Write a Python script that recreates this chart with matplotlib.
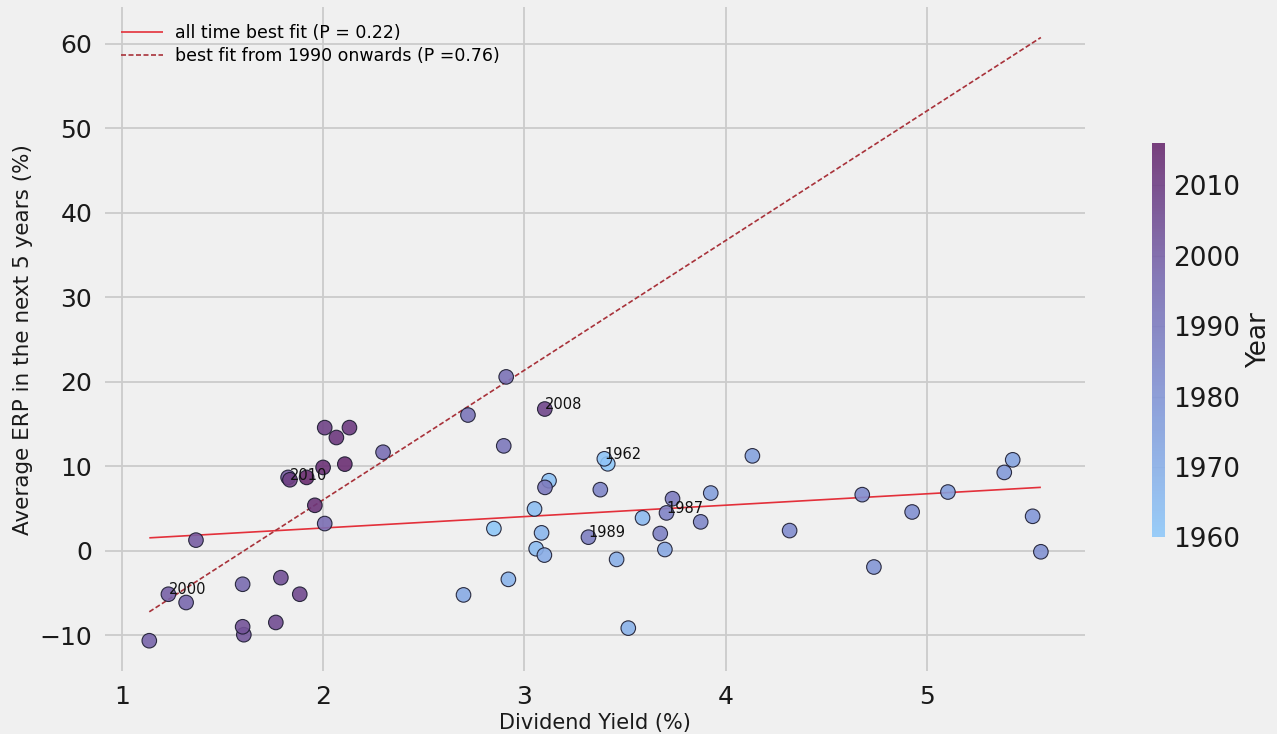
import numpy as np
import matplotlib
matplotlib.use("Agg")
import matplotlib.pyplot as plt
from matplotlib.colors import LinearSegmentedColormap, Normalize

years = list(range(1960, 2017))
div_yield = [3.414, 2.848, 3.397, 3.122, 3.050, 3.058, 3.587, 3.085, 2.920, 3.516,
             3.458, 3.099, 2.697, 3.698, 5.427, 4.133, 3.926, 5.105, 5.385, 5.526,
             4.737, 5.567, 4.927, 4.318, 4.679, 3.876, 3.377, 3.706, 3.675, 3.318,
             3.736, 3.102, 2.897, 2.719, 2.909, 2.297, 2.007, 1.599, 1.318, 1.135,
             1.230, 1.367, 1.825, 1.605, 1.599, 1.789, 1.764, 1.883, 3.101, 2.007,
             1.834, 2.130, 2.065, 1.958, 1.999, 2.107, 1.917]
erp_5y = [10.29, 2.63, 10.88, 8.29, 4.95, 0.24, 3.89, 2.12, -3.38, -9.15,
          -1.02, -0.51, -5.22, 0.15, 10.76, 11.23, 6.83, 6.95, 9.27, 4.08,
          -1.92, -0.12, 4.59, 2.39, 6.64, 3.42, 7.23, 4.48, 2.04, 1.61,
          6.16, 7.50, 12.41, 16.06, 20.57, 11.66, 3.22, -3.96, -6.12, -10.64,
          -5.14, 1.26, 8.68, -9.93, -8.99, -3.18, -8.48, -5.14, 16.77, 14.57,
          8.40, 14.57, 13.40, 5.38, 9.86, 10.25, 8.68]
annotated_years = [1962, 1987, 1989, 2000, 2008, 2010]

# best-fit lines (slope, intercept)
fit_all = (1.348, 0.0)
fit_1990 = (15.33, -24.62)
label_all = "all time best fit (P = 0.22)"
label_1990 = "best fit from 1990 onwards (P =0.76)"

plt.style.use("fivethirtyeight")
plt.rcParams["font.family"] = ["DejaVu Sans"]

fig = plt.figure(figsize=(12.77, 7.34), dpi=100)
fig.patch.set_facecolor("#f0f0f0")
ax = fig.add_axes([0.082, 0.086, 0.768, 0.904])
ax.set_facecolor("#f0f0f0")

cmap = LinearSegmentedColormap.from_list(
    "yr", ["#90c9f9", "#8499d8", "#7a6bb0", "#6a2c70"])
norm = Normalize(vmin=1960, vmax=2016)

x = np.array(div_yield)
y = np.array(erp_5y)
sc = ax.scatter(x, y, c=years, cmap=cmap, norm=norm, s=110, alpha=0.9,
                edgecolors="#1a1a2e", linewidths=0.8, zorder=3)

xs = np.array([x.min(), x.max()])
ax.plot(xs, fit_all[0] * xs + fit_all[1], color="#e3303a", lw=1.2,
        label=label_all, zorder=2)
ax.plot(xs, fit_1990[0] * xs + fit_1990[1], color="#a8323a", lw=1.2,
        ls=(0, (3, 1.5)), label=label_1990, zorder=2)

for yr, xv, yv in zip(years, div_yield, erp_5y):
    if yr in annotated_years:
        ax.annotate(str(yr), (xv, yv), fontsize=10.5, color="#111111", zorder=4)

ax.set_xticks([1, 2, 3, 4, 5])
ax.set_yticks([-10, 0, 10, 20, 30, 40, 50, 60])
ax.tick_params(axis="both", labelsize=18, length=0, colors="#1a1a1a")
ax.tick_params(axis="x", pad=10)
ax.tick_params(axis="y", pad=9)
ax.set_xlabel("Dividend Yield (%)", fontsize=15, labelpad=3)
ax.set_ylabel("Average ERP in the next 5 years (%)", fontsize=15.5, labelpad=5)
ax.xaxis.label.set_color("#1a1a1a")
ax.yaxis.label.set_color("#1a1a1a")
ax.grid(True, color="#cbcbcb", lw=1.3)
for s in ax.spines.values():
    s.set_visible(False)

leg = ax.legend(loc="upper left", fontsize=12.5, frameon=False,
                handlelength=2.4, handletextpad=0.7, labelspacing=0.3,
                borderaxespad=0.55)

cax = fig.add_axes([0.902, 0.268, 0.0102, 0.537])
cb = fig.colorbar(sc, cax=cax)
cb.set_alpha(1)
cb.outline.set_visible(False)
cb.set_ticks([1960, 1970, 1980, 1990, 2000, 2010])
cb.ax.tick_params(labelsize=19, length=0, pad=6, colors="#1a1a1a")
cb.set_label("Year", fontsize=19, color="#1a1a1a", labelpad=4)

fig.savefig("out.png", dpi=100, facecolor=fig.get_facecolor())
